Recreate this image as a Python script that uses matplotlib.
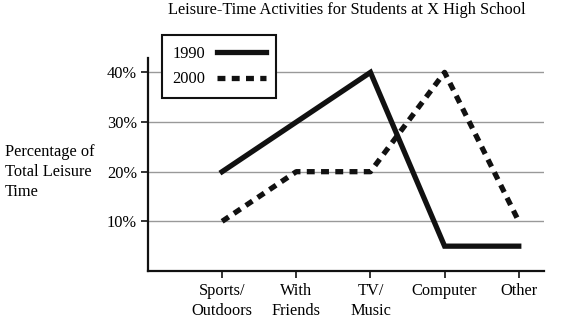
import matplotlib
matplotlib.use('Agg')
import matplotlib.pyplot as plt

plt.rcParams['font.family'] = ['Liberation Serif', 'DejaVu Serif']

categories = ['Sports/\nOutdoors', 'With\nFriends', 'TV/\nMusic', 'Computer', 'Other']
share_1990 = [20, 30, 40, 5, 5]
share_2000 = [10, 20, 20, 40, 10]
y_ticks = [10, 20, 30, 40]

FS = 11.8

fig = plt.figure(figsize=(5.72, 3.22), dpi=100)
ax = fig.add_axes([0.2587, 0.1584, 0.6923, 0.6616])

x = range(len(categories))
ax.plot(x, share_1990, color='#111111', lw=3.8, solid_joinstyle='miter',
        label='1990', zorder=3)
ax.plot(x, share_2000, color='#111111', lw=3.8, linestyle=(0, (1.5, 1.2)),
        dash_capstyle='butt', label='2000', zorder=3)

ax.set_xlim(-1, 4.34)
ax.set_ylim(0, 42.9)
ax.set_xticks(list(x))
ax.set_xticklabels(categories, fontsize=FS, linespacing=1.3)
ax.set_yticks(y_ticks)
ax.set_yticklabels([f'{v}%' for v in y_ticks], fontsize=FS)
ax.yaxis.grid(True, color='#999999', lw=1)
ax.set_axisbelow(True)
ax.tick_params(axis='both', direction='out', length=5, width=1.2, color='#111111', pad=3)
ax.tick_params(axis='x', pad=4)

for side in ('top', 'right'):
    ax.spines[side].set_visible(False)
for side in ('left', 'bottom'):
    ax.spines[side].set_linewidth(1.6)
    ax.spines[side].set_color('#111111')

fig.text(0.607, 0.969, 'Leisure-Time Activities for Students at X High School',
         ha='center', va='center', fontsize=FS)
fig.text(0.009, 0.466, 'Percentage of\nTotal Leisure\nTime', ha='left', va='center',
         fontsize=FS, linespacing=1.37)

leg = ax.legend(loc='upper left', bbox_to_anchor=(0.2832, 0.8913),
                bbox_transform=fig.transFigure, borderaxespad=0, fontsize=FS,
                frameon=True, fancybox=False, handlelength=3.0, handletextpad=0.67,
                borderpad=0.65, labelspacing=0.6, markerfirst=False)
leg.get_frame().set_edgecolor('#111111')
leg.get_frame().set_linewidth(1.5)
leg.get_frame().set_alpha(1)
leg.set_zorder(5)

fig.savefig('out.png', dpi=100)
